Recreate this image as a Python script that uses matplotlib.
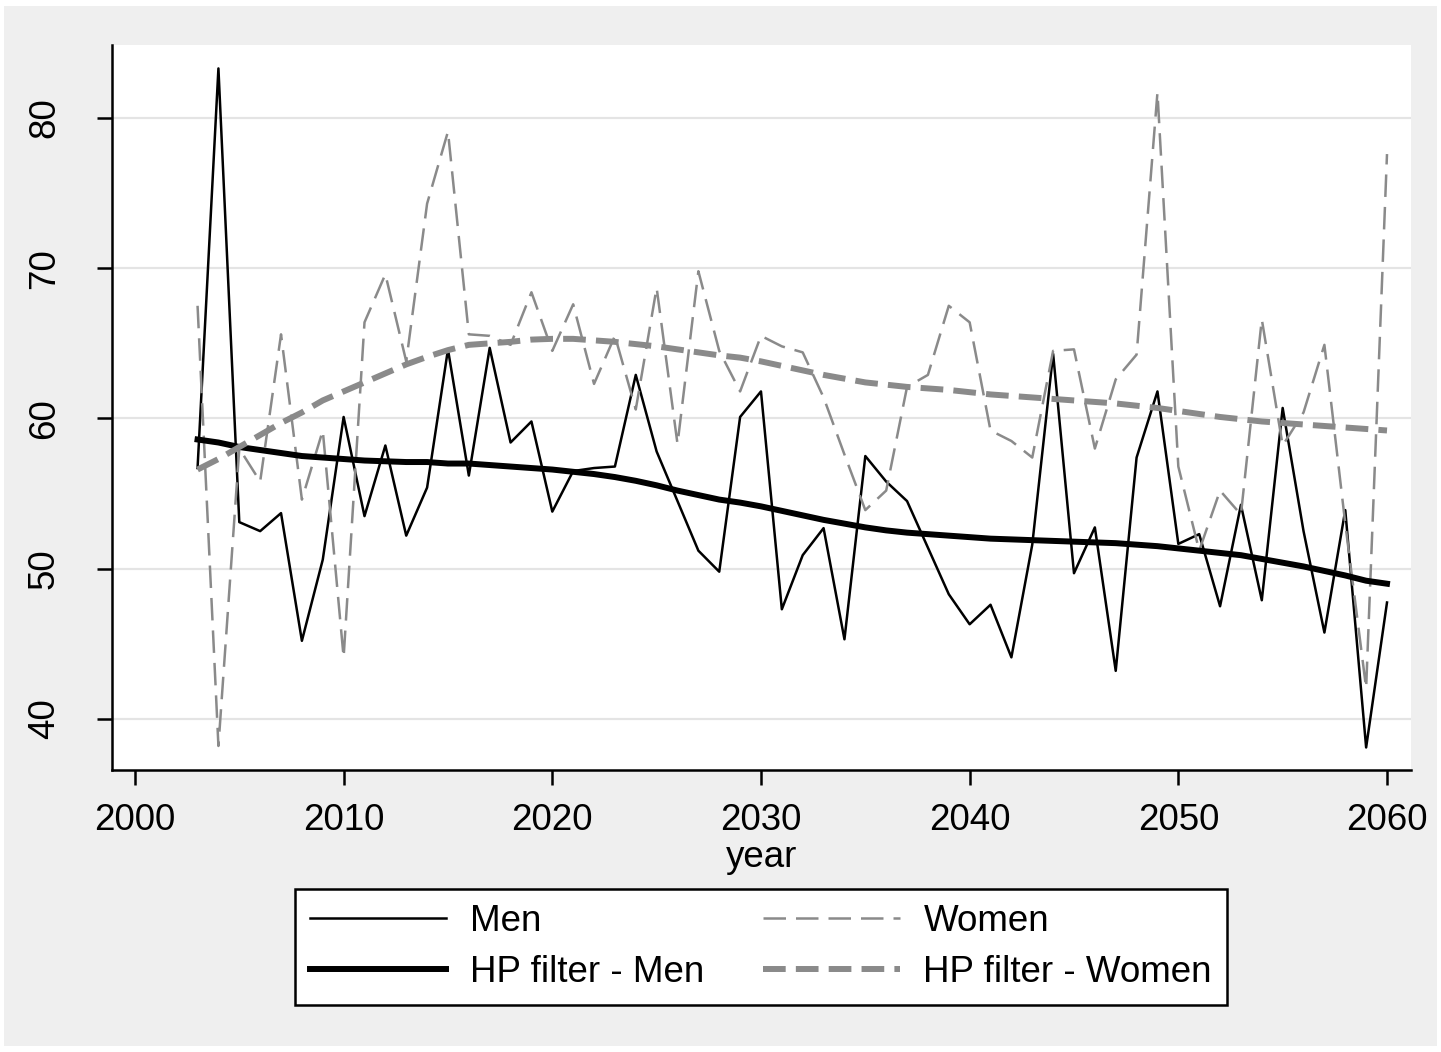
import numpy as np
import matplotlib
matplotlib.use("Agg")
import matplotlib.pyplot as plt
from matplotlib.patches import Rectangle

plt.rcParams['font.family'] = ['Liberation Sans', 'DejaVu Sans']

years = list(range(2003, 2061))

men = [56.7, 83.3, 53.1, 52.5, 53.7, 45.2, 50.6,
       60.1, 53.5, 58.2, 52.2, 55.4, 64.6, 56.2, 64.7, 58.4, 59.8,
       53.8, 56.5, 56.7, 56.8, 62.9, 57.8, 54.5, 51.2, 49.8, 60.1,
       61.8, 47.3, 50.9, 52.7, 45.3, 57.5, 55.8, 54.5, 51.4, 48.3,
       46.3, 47.6, 44.1, 51.6, 64.3, 49.7, 52.75, 43.2, 57.4, 61.8,
       51.65, 52.3, 47.5, 54.25, 47.9, 60.7, 52.5, 45.75, 53.9, 38.1,
       47.75]

women = [67.5, 38.2, 58.0, 55.8, 65.6, 54.6, 59.2,
         44.1, 66.4, 69.6, 63.8, 74.3, 79.1, 65.6, 65.5, 64.9, 68.4,
         64.5, 67.6, 62.3, 65.5, 60.6, 68.7, 58.3, 69.8, 64.5, 61.8,
         65.5, 64.8, 64.4, 61.4, 57.6, 53.9, 55.2, 62.1, 62.9, 67.5,
         66.4, 59.2, 58.5, 57.4, 64.5, 64.6, 58.0, 62.6, 64.25, 81.7,
         56.8, 51.2, 55.2, 53.6, 66.6, 58.2, 60.4, 64.9, 53.0, 42.05,
         77.6]

hp_men = [58.6, 58.4, 58.1, 57.9, 57.7, 57.5, 57.4,
          57.3, 57.2, 57.15, 57.1, 57.1, 57.0, 57.0, 56.9, 56.8, 56.7,
          56.6, 56.45, 56.3, 56.1, 55.85, 55.55, 55.2, 54.9, 54.6, 54.4,
          54.15, 53.85, 53.55, 53.25, 53.0, 52.75, 52.55, 52.4, 52.3, 52.2,
          52.1, 52.0, 51.95, 51.9, 51.85, 51.8, 51.75, 51.7, 51.6, 51.5,
          51.35, 51.2, 51.05, 50.9, 50.65, 50.4, 50.15, 49.85, 49.55, 49.2,
          49.0]

hp_women = [56.6, 57.3, 58.1, 58.9, 59.7, 60.4, 61.2,
            61.8, 62.4, 63.0, 63.6, 64.1, 64.55, 64.9, 65.0, 65.1, 65.25,
            65.3, 65.3, 65.2, 65.1, 64.95, 64.8, 64.6, 64.4, 64.2, 64.05,
            63.8, 63.5, 63.2, 62.9, 62.65, 62.4, 62.25, 62.1, 62.0, 61.9,
            61.75, 61.6, 61.5, 61.4, 61.3, 61.2, 61.1, 61.0, 60.85, 60.7,
            60.5, 60.3, 60.1, 59.95, 59.8, 59.7, 59.6, 59.5, 59.4, 59.3,
            59.2]

x_ticks = [2000, 2010, 2020, 2030, 2040, 2050, 2060]
y_ticks = [40, 50, 60, 70, 80]

W, H = 1441, 1052
bg = '#efefef'
gray = '#8a8a8a'
fs = 26.5

fig = plt.figure(figsize=(W / 100, H / 100), dpi=100, facecolor='white')
fig.patches.append(Rectangle((4 / W, 6 / H), 1433 / W, 1040 / H,
                             transform=fig.transFigure, facecolor=bg,
                             edgecolor='none', zorder=-10))

ax = fig.add_axes([112 / W, 1 - 770 / H, (1411 - 112) / W, (770 - 45) / H])
ax.set_facecolor('white')

l_men, = ax.plot(years, men, color='black', lw=1.8, label='Men')
l_women, = ax.plot(years, women, color=gray, lw=1.8, dashes=(9, 4),
                   label='Women')
l_hpm, = ax.plot(years, hp_men, color='black', lw=4.3,
                 label='HP filter - Men')
l_hpw, = ax.plot(years, hp_women, color=gray, lw=4.3, dashes=(3.8, 1.7),
                 label='HP filter - Women')

ax.set_xlim(1998.9, 2061.15)
ax.set_ylim(36.6, 84.86)
ax.set_xticks(x_ticks)
ax.set_yticks(y_ticks)
ax.grid(axis='y', color='#e4e4e4', lw=1.6)
ax.set_axisbelow(True)

for s in ['top', 'right']:
    ax.spines[s].set_visible(False)
for s in ['left', 'bottom']:
    ax.spines[s].set_linewidth(1.8)

ax.tick_params(axis='both', length=11, width=1.8, labelsize=fs, pad=13)
ax.tick_params(axis='y', pad=25)
for lab in ax.get_yticklabels():
    lab.set_rotation(90)
    lab.set_va('center')

ax.set_xlabel('year', fontsize=fs, labelpad=1)

# column-major fill: Men / HP Men in col 1, Women / HP Women in col 2
handles = [l_men, l_hpm, l_women, l_hpw]
leg = fig.legend(handles, [h.get_label() for h in handles],
                 loc='center', bbox_to_anchor=(761 / W, 1 - 947 / H), ncol=2,
                 fontsize=fs, frameon=True, fancybox=False, edgecolor='black',
                 facecolor='white', framealpha=1, handlelength=3.7,
                 handletextpad=0.65, columnspacing=1.6, labelspacing=0.43,
                 borderpad=0.4)
leg.get_frame().set_linewidth(1.8)

fig.savefig('out.png', dpi=100, facecolor=fig.get_facecolor())
